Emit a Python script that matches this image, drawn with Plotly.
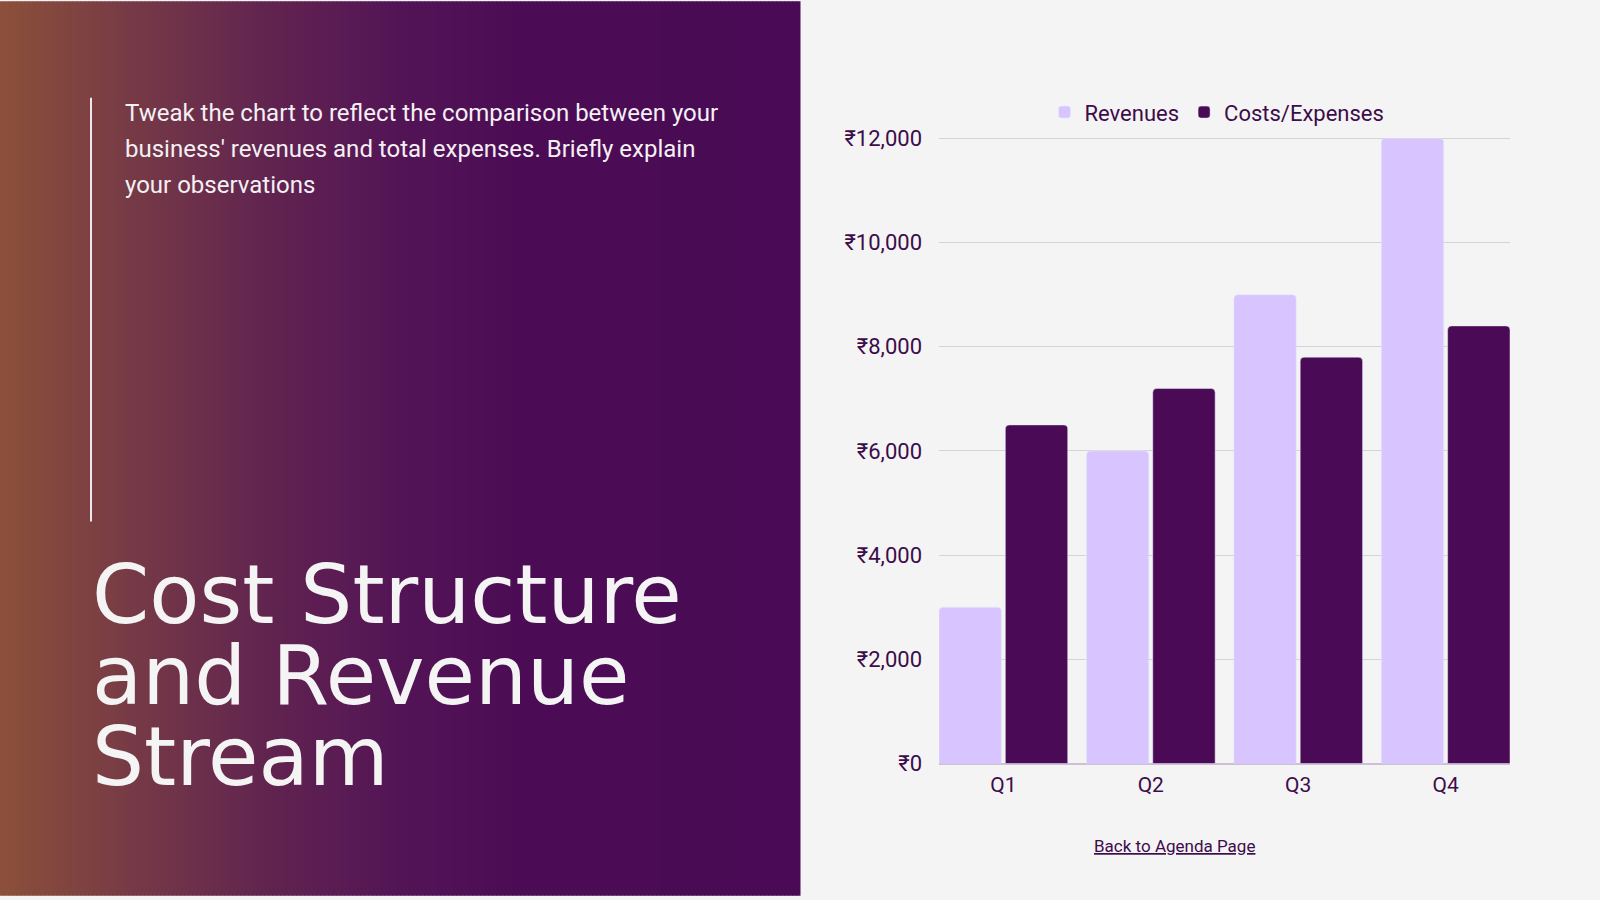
import plotly.graph_objects as go

# data
quarters = ["Q1", "Q2", "Q3", "Q4"]
revenues = [3000, 6000, 9000, 12000]
costs = [6500, 7200, 7800, 8400]
y_ticks = [0, 2000, 4000, 6000, 8000, 10000, 12000]
y_tick_labels = ["₹0", "₹2,000", "₹4,000", "₹6,000", "₹8,000", "₹10,000", "₹12,000"]

title_lines = ["Cost Structure", "and Revenue", "Stream"]
intro_lines = [
    "Tweak the chart to reflect the comparison between your",
    "business' revenues and total expenses. Briefly explain",
    "your observations",
]

W, H = 1600, 900
REV_COLOR = "#D8C5FF"
COST_COLOR = "#4A0A55"
TEXT_COLOR = "#3D0C4A"
BG = "#F4F4F4"

fig = go.Figure()
fig.add_trace(go.Bar(x=quarters, y=revenues, name="Revenues",
                     marker=dict(color=REV_COLOR, cornerradius=4)))
fig.add_trace(go.Bar(x=quarters, y=costs, name="Costs/Expenses",
                     marker=dict(color=COST_COLOR, cornerradius=4)))

# left panel: horizontal gradient built from thin strips
def lerp(c1, c2, t):
    return tuple(round(a + (b - a) * t) for a, b in zip(c1, c2))

stops = [(0, (0x8C, 0x50, 0x3A)), (120, (0x78, 0x3C, 0x45)), (260, (0x62, 0x25, 0x4F)),
         (400, (0x53, 0x14, 0x56)), (520, (0x4B, 0x0C, 0x55)), (800, (0x4A, 0x0A, 0x55))]
shapes = []
step = 4
for x0 in range(0, 800, step):
    xm = x0 + step / 2
    for (a, ca), (b, cb) in zip(stops[:-1], stops[1:]):
        if a <= xm <= b:
            c = lerp(ca, cb, (xm - a) / (b - a))
            break
    shapes.append(dict(type="rect", xref="paper", yref="paper", layer="below",
                       x0=x0 / W, x1=(x0 + step + 0.5) / W, y0=-0.01, y1=1.01,
                       line=dict(width=0), fillcolor="rgb(%d,%d,%d)" % c))
# thin vertical rule next to intro text
shapes.append(dict(type="line", xref="paper", yref="paper",
                   x0=91 / W, x1=91 / W, y0=1 - 90 / H, y1=1 - 525 / H,
                   line=dict(color="#F0E6EE", width=2)))

annotations = []
for i, line in enumerate(intro_lines):
    annotations.append(dict(text=line, xref="paper", yref="paper", showarrow=False,
                            x=123 / W, y=1 - (106 + 36.7 * i) / H, xanchor="left", yanchor="middle",
                            font=dict(family="Roboto", size=24, color="#F4F0F4")))
for i, line in enumerate(title_lines):
    annotations.append(dict(text=line, xref="paper", yref="paper", showarrow=False,
                            x=90 / W, y=1 - (600 + 83 * i) / H, xanchor="left", yanchor="middle",
                            font=dict(family="DejaVu Sans", size=82, color="#F4F4F4")))
annotations.append(dict(text="<u>Back to Agenda Page</u>", xref="paper", yref="paper",
                        showarrow=False, x=1174 / W, y=1 - 858 / H, xanchor="center",
                        yanchor="middle", font=dict(family="Roboto", size=17, color=TEXT_COLOR)))

fig.update_layout(
    width=W, height=H,
    margin=dict(l=0, r=0, t=0, b=0),
    paper_bgcolor=BG, plot_bgcolor=BG,
    barmode="group", bargap=0.1, bargroupgap=0.06,
    font=dict(family="Roboto", color=TEXT_COLOR),
    shapes=shapes, annotations=annotations,
    showlegend=True,
    legend=dict(orientation="h", x=1217 / W, y=1 - 105 / H, xanchor="center", yanchor="middle",
                font=dict(size=22, color=TEXT_COLOR), bgcolor="rgba(0,0,0,0)"),
    xaxis=dict(domain=[939 / W, 1510 / W], range=[-0.4365, 3.4365], showgrid=False,
               showline=False, zeroline=False, tickfont=dict(size=21, color=TEXT_COLOR),
               ticks="outside", ticklen=2, tickcolor="rgba(0,0,0,0)"),
    yaxis=dict(domain=[1 - 773.3 / H, 1 - 129.6 / H], range=[0, 12040],
               tickvals=y_ticks, ticktext=y_tick_labels,
               gridcolor="#D6D3D6", gridwidth=1, zeroline=True, zerolinecolor="#CDBFD6",
               zerolinewidth=2, showline=False, tickfont=dict(size=22, color=TEXT_COLOR),
               ticklabelstandoff=16),
)

pin_js = (
    "document.documentElement.style.margin='0';"
    "document.body.style.margin='0';document.body.style.overflow='hidden';"
    "var d=document.getElementById('{plot_id}');"
    "d.style.position='fixed';d.style.top='0';d.style.left='0';"
)
fig.write_html("out.html", config={"displayModeBar": False}, post_script=pin_js)
